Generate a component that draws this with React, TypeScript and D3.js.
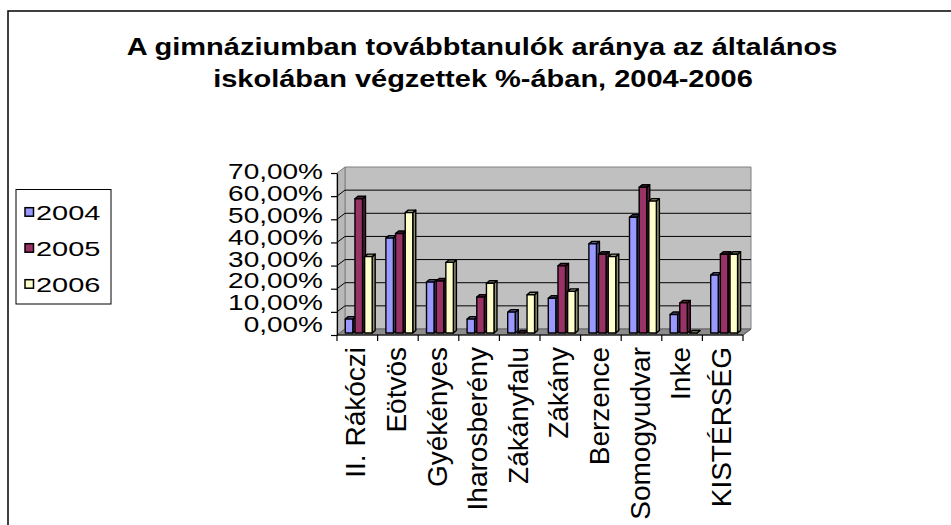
import React, { useEffect, useRef } from 'react';
import * as d3 from 'd3';

const categories = [
  'II. Rákóczi', 'Eötvös', 'Gyékényes', 'Iharosberény', 'Zákányfalu',
  'Zákány', 'Berzence', 'Somogyudvar', 'Inke', 'KISTÉRSÉG',
];
const seriesNames = ['2004', '2005', '2006'];
const values2004 = [6, 41, 22, 6, 9, 15, 38.5, 50, 8, 25];
const values2005 = [58, 43, 22.5, 15.5, 0, 29, 34, 63, 13, 34];
const values2006 = [33, 52, 30.5, 21.5, 16.5, 18, 33, 57, 0, 34];
const yTicks = [0, 10, 20, 30, 40, 50, 60, 70];
const seriesColors = ['#9999FF', '#993366', '#FFFFCC'];
const titleLines = [
  'A gimnáziumban továbbtanulók aránya az általános',
  'iskolában végzettek %-ában, 2004-2006',
];

const FONT = 'Arial, "Liberation Sans", sans-serif';

function App() {
  const chartRef = useRef<SVGSVGElement>(null);

  useEffect(() => {
    drawChart();
  }, []);

  const drawChart = () => {
    const svg = d3.select(chartRef.current);
    svg.selectAll('*').remove();

    const left = 337, right = 743, base = 335, top = 173;
    const DX = 8, DY = -6; // depth of the plot box
    const BDX = 2.5, BDY = -2; // bar front offset into the box
    const DDX = 3, DDY = -2.5; // bar depth

    const x0 = d3.scaleBand<string>().domain(categories).range([left, right]);
    const x1 = d3.scaleBand<string>().domain(seriesNames)
      .range([0, x0.bandwidth()]).paddingInner(0).paddingOuter(0.6);
    const y = d3.scaleLinear().domain([0, 70]).range([base, top]);
    const yLabel = d3.scaleLinear().domain([0, 70]).range([324, 171.3]);

    const text = (g: any, str: string, x: number, yy: number, size: number, ky: number, anchor: string, bold = false) =>
      g.append('text')
        .attr('transform', `translate(${x},${yy}) scale(1,${ky})`)
        .attr('text-anchor', anchor)
        .attr('font-family', FONT)
        .attr('font-size', size)
        .attr('font-weight', bold ? 'bold' : 'normal')
        .attr('fill', '#000')
        .text(str);

    // outer frame
    svg.append('rect')
      .attr('x', 8).attr('y', 11).attr('width', 1000).attr('height', 1000)
      .attr('fill', '#fff').attr('stroke', '#000').attr('stroke-width', 1.5);

    // title
    text(svg, titleLines[0], 482, 55, 29, 0.82, 'middle', true);
    text(svg, titleLines[1], 483, 87, 29, 0.82, 'middle', true);

    // walls
    const pts = (p: number[][]) => p.map(d => d.join(',')).join(' ');
    svg.append('polygon')
      .attr('points', pts([[left + DX, y(70) + DY], [right + DX, y(70) + DY], [right + DX, base + DY], [left + DX, base + DY]]))
      .attr('fill', '#C0C0C0').attr('stroke', '#808080').attr('stroke-width', 1);
    svg.append('polygon')
      .attr('points', pts([[left, y(70)], [left + DX, y(70) + DY], [left + DX, base + DY], [left, base]]))
      .attr('fill', '#B8B8B8').attr('stroke', '#808080').attr('stroke-width', 1);
    svg.append('polygon')
      .attr('points', pts([[left, base], [right, base], [right + DX, base + DY], [left + DX, base + DY]]))
      .attr('fill', '#8C8C8C').attr('stroke', '#606060').attr('stroke-width', 1);

    // gridlines
    yTicks.filter(v => v > 0 && v < 70).forEach(v => {
      svg.append('line')
        .attr('x1', left + DX).attr('x2', right + DX)
        .attr('y1', y(v) + DY).attr('y2', y(v) + DY)
        .attr('stroke', '#000').attr('stroke-width', 1);
      svg.append('line')
        .attr('x1', left).attr('x2', left + DX)
        .attr('y1', y(v)).attr('y2', y(v) + DY)
        .attr('stroke', '#000').attr('stroke-width', 1);
    });

    // bars
    const allValues = [values2004, values2005, values2006];
    categories.forEach((cat, ci) => {
      seriesNames.forEach((s, si) => {
        const v = allValues[si][ci];
        const w = x1.bandwidth() * 0.78;
        const bx = (x0(cat) as number) + (x1(s) as number) + BDX;
        const yt = y(v) + BDY;
        const yb = y(0) + BDY;
        const col = seriesColors[si];
        const dark = d3.color(col)!.darker(1.6).toString();
        const g = svg.append('g')
          .attr('stroke', '#000').attr('stroke-width', 1.4).attr('stroke-linejoin', 'round');
        g.append('polygon')
          .attr('points', pts([[bx + w, yb], [bx + w + DDX, yb + DDY], [bx + w + DDX, yt + DDY], [bx + w, yt]]))
          .attr('fill', dark);
        g.append('polygon')
          .attr('points', pts([[bx, yt], [bx + DDX, yt + DDY], [bx + w + DDX, yt + DDY], [bx + w, yt]]))
          .attr('fill', dark);
        if (v > 0) {
          g.append('rect')
            .attr('x', bx).attr('y', yt).attr('width', w).attr('height', yb - yt)
            .attr('fill', col);
        }
      });
    });

    // value axis
    svg.append('g')
      .attr('transform', `translate(${left},0)`)
      .call(d3.axisLeft(y).tickValues(yTicks).tickSize(6).tickSizeOuter(0).tickFormat(() => ''))
      .call(g => g.selectAll('line,path').attr('stroke', '#000').attr('stroke-width', 1.2));
    yTicks.forEach(v => {
      text(svg, `${v},00%`, 323, yLabel(v) + 8, 28, 0.8, 'end');
    });

    // category axis
    svg.append('line')
      .attr('x1', left).attr('x2', right).attr('y1', base).attr('y2', base)
      .attr('stroke', '#000').attr('stroke-width', 1.2);
    svg.append('line')
      .attr('x1', right).attr('x2', right + DX).attr('y1', base).attr('y2', base + DY)
      .attr('stroke', '#606060').attr('stroke-width', 1);
    const bounds = categories.map(c => x0(c) as number).concat([right]);
    bounds.forEach(bx => {
      svg.append('line')
        .attr('x1', bx).attr('x2', bx).attr('y1', base).attr('y2', base + 6)
        .attr('stroke', '#000').attr('stroke-width', 1.2);
    });
    categories.forEach(c => {
      const cx = (x0(c) as number) + x0.bandwidth() / 2;
      svg.append('text')
        .attr('transform', `translate(${cx + 8},347) rotate(-90)`)
        .attr('text-anchor', 'end')
        .attr('font-family', FONT)
        .attr('font-size', 28)
        .attr('fill', '#000')
        .text(c);
    });

    // legend
    svg.append('rect')
      .attr('x', 16).attr('y', 189.5).attr('width', 95).attr('height', 114.5)
      .attr('fill', '#fff').attr('stroke', '#000').attr('stroke-width', 1);
    seriesNames.forEach((s, i) => {
      const cy = 212 + i * 36;
      svg.append('rect')
        .attr('x', 25).attr('y', cy - 4.3).attr('width', 8.5).attr('height', 8.5)
        .attr('fill', seriesColors[i]).attr('stroke', '#000').attr('stroke-width', 1.5);
      text(svg, s, 36, cy + 7.5, 29, 0.72, 'start');
    });
  };

  return (
    <svg ref={chartRef} width={951} height={525}
      style={{ position: 'absolute', left: 0, top: 0, background: '#fff' }} />
  );
}

export default App;
